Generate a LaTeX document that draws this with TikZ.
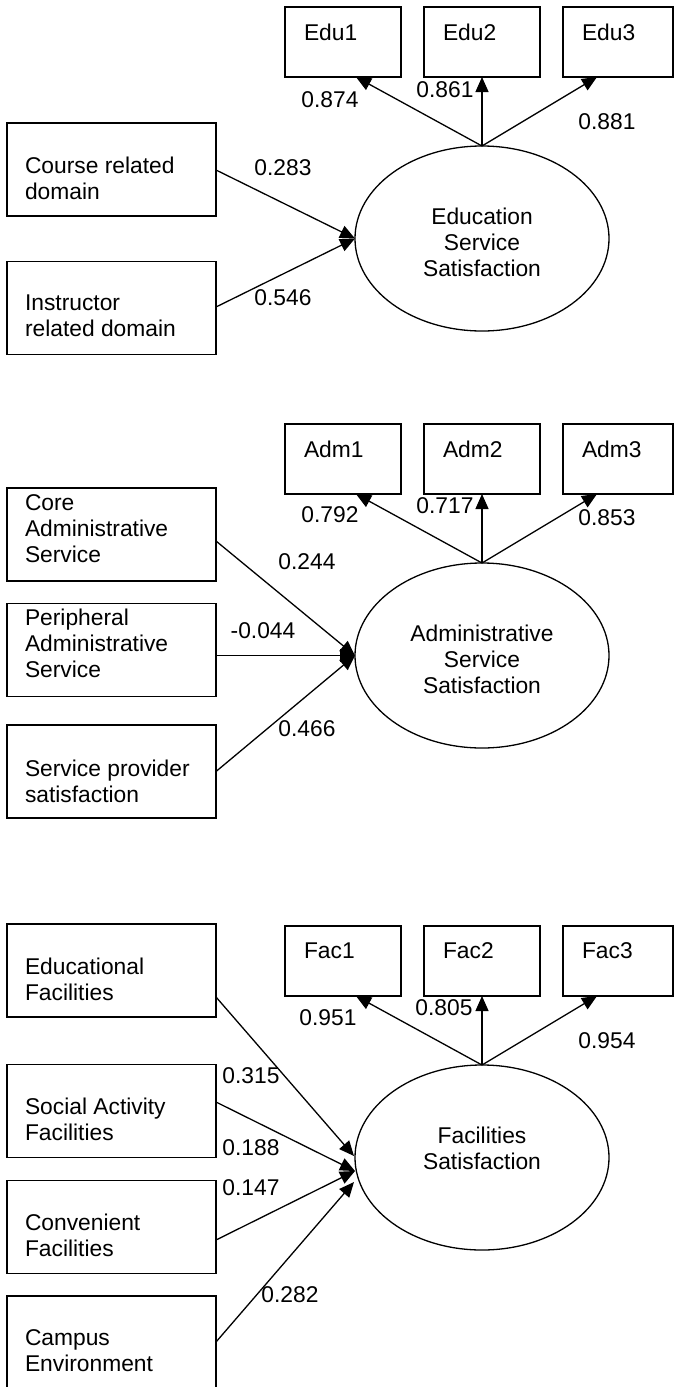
\documentclass[tikz,border=0pt]{standalone}
\usepackage{fontspec}
\setmainfont{Liberation Sans}
\usetikzlibrary{arrows.meta,shapes.geometric,calc}
\begin{document}
\begin{tikzpicture}[x=1pt,y=-1pt,
  every node/.style={inner sep=0pt, outer sep=0pt, font=\fontsize{22.8pt}{26pt}\selectfont, text=black},
  obs/.style={draw, line width=1.8pt, minimum width=116pt, minimum height=70pt},
  src/.style={draw, line width=1.8pt, minimum width=209pt, minimum height=93pt},
  lat/.style={draw, ellipse, line width=1.3pt, minimum width=254pt, minimum height=185pt},
  ltxt/.style={anchor=north west, align=left},
  ctxt/.style={anchor=north, align=center},
  num/.style={anchor=center},
  arr/.style={line width=1.3pt, -{Triangle[length=15pt,width=13pt]}},
]
\useasboundingbox (0,0) rectangle (674,1387);

% ---------- Section 1 ----------
\node[obs] (edu1) at (343,42) {};
\node[obs] (edu2) at (482,42) {};
\node[obs, minimum width=110pt] (edu3) at (618,42) {};
\node[src] (crs) at (111.5,169.5) {};
\node[src] (ins) at (111.5,308) {};
\node[lat] (ess) at (482,238.5) {};

\node[ltxt] (edu1t) at ($(edu1.north west)+(19,16.5)$) {Edu1};
\node[ltxt] (edu2t) at ($(edu2.north west)+(19,16.5)$) {Edu2};
\node[ltxt] (edu3t) at ($(edu3.north west)+(19,16.5)$) {Edu3};
\node[ltxt] (crst) at ($(crs.north west)+(18,33.5)$) {Course related\\domain};
\node[ltxt] (inst) at ($(ins.north west)+(18,33)$) {Instructor\\related domain};
\node[ctxt] (esst) at (482,207.5) {Education\\Service\\Satisfaction};

\draw[arr] (ess.north) -- ($(edu1.south)+(13,0)$);
\draw[arr] (ess.north) -- (edu2.south);
\draw[arr] (ess.north) -- ($(edu3.south)+(-21,0)$);
\draw[arr] ($(crs.east)+(0,0.5)$) -- (ess.west);
\draw[arr] ($(ins.east)+(0,-1)$) -- (ess.west);

\node[num] (n874) at (330,100) {0.874};
\node[num] (n861) at (445,90) {0.861};
\node[num] (n881) at (607,122) {0.881};
\node[num] (n283) at (283,168) {0.283};
\node[num] (n546) at (283,298) {0.546};

% ---------- Section 2 ----------
\node[obs] (adm1) at (343,459) {};
\node[obs] (adm2) at (482,459) {};
\node[obs, minimum width=110pt] (adm3) at (618,459) {};
\node[src] (core) at (111.5,534.5) {};
\node[src] (peri) at (111.5,650) {};
\node[src] (spr) at (111.5,771.5) {};
\node[lat] (ass) at (482,655.5) {};

\node[ltxt] (adm1t) at ($(adm1.north west)+(19,16.5)$) {Adm1};
\node[ltxt] (adm2t) at ($(adm2.north west)+(19,16.5)$) {Adm2};
\node[ltxt] (adm3t) at ($(adm3.north west)+(19,16.5)$) {Adm3};
\node[ltxt] (coret) at ($(core.north west)+(18,6.5)$) {Core\\Administrative\\Service};
\node[ltxt] (perit) at ($(peri.north west)+(18,5.5)$) {Peripheral\\Administrative\\Service};
\node[ltxt] (sprt) at ($(spr.north west)+(18,34.5)$) {Service provider\\satisfaction};
\node[ctxt] (asst) at (482,624.5) {Administrative\\Service\\Satisfaction};

\draw[arr] (ass.north) -- ($(adm1.south)+(13,0)$);
\draw[arr] (ass.north) -- (adm2.south);
\draw[arr] (ass.north) -- ($(adm3.south)+(-21,0)$);
\draw[arr] ($(core.east)+(0,6.5)$) -- (ass.west);
\draw[arr] (peri.east |- ass.west) -- (ass.west);
\draw[arr] (spr.east) -- (ass.west);

\node[num] (n792) at (330,515) {0.792};
\node[num] (n717) at (445,506) {0.717};
\node[num] (n853) at (607,518) {0.853};
\node[num] (n244) at (307,562) {0.244};
\node[num] (n044) at (263,631) {-0.044};
\node[num] (n466) at (307,729) {0.466};

% ---------- Section 3 ----------
\node[obs] (fac1) at (343,961) {};
\node[obs] (fac2) at (482,961) {};
\node[obs, minimum width=110pt] (fac3) at (618,961) {};
\node[src] (edf) at (111.5,970.5) {};
\node[src] (soc) at (111.5,1111) {};
\node[src] (cnv) at (111.5,1227) {};
\node[src] (cmp) at (111.5,1342.5) {};
\node[lat] (fss) at (482,1157.5) {};

\coordinate (fin1) at (354,1156);
\coordinate (fin2) at (355,1171);
\coordinate (fin3) at (354,1182);

\node[ltxt] (fac1t) at ($(fac1.north west)+(19,16.5)$) {Fac1};
\node[ltxt] (fac2t) at ($(fac2.north west)+(19,16.5)$) {Fac2};
\node[ltxt] (fac3t) at ($(fac3.north west)+(19,16.5)$) {Fac3};
\node[ltxt] (edft) at ($(edf.north west)+(18,33.5)$) {Educational\\Facilities};
\node[ltxt] (soct) at ($(soc.north west)+(18,33.5)$) {Social Activity\\Facilities};
\node[ltxt] (cnvt) at ($(cnv.north west)+(18,33.5)$) {Convenient\\Facilities};
\node[ltxt] (cmpt) at ($(cmp.north west)+(18,33.5)$) {Campus\\Environment};
\node[ctxt] (fsst) at (482,1126.5) {Facilities\\Satisfaction};

\draw[arr] (fss.north) -- ($(fac1.south)+(13,0)$);
\draw[arr] (fss.north) -- (fac2.south);
\draw[arr] (fss.north) -- ($(fac3.south)+(-21,0)$);
\draw[arr] ($(edf.east)+(0,26.5)$) -- (fin1);
\draw[arr] ($(soc.east)+(0,-9)$) -- (fin2);
\draw[arr] ($(cnv.east)+(0,13)$) -- (fin2);
\draw[arr] ($(cmp.east)+(0,-0.5)$) -- (fin3);

\node[num] (n951) at (328,1018) {0.951};
\node[num] (n805) at (444,1008) {0.805};
\node[num] (n954) at (607,1041) {0.954};
\node[num] (n315) at (251,1076) {0.315};
\node[num] (n188) at (251,1148) {0.188};
\node[num] (n147) at (251,1188) {0.147};
\node[num] (n282) at (290,1295) {0.282};
\end{tikzpicture}
\end{document}
